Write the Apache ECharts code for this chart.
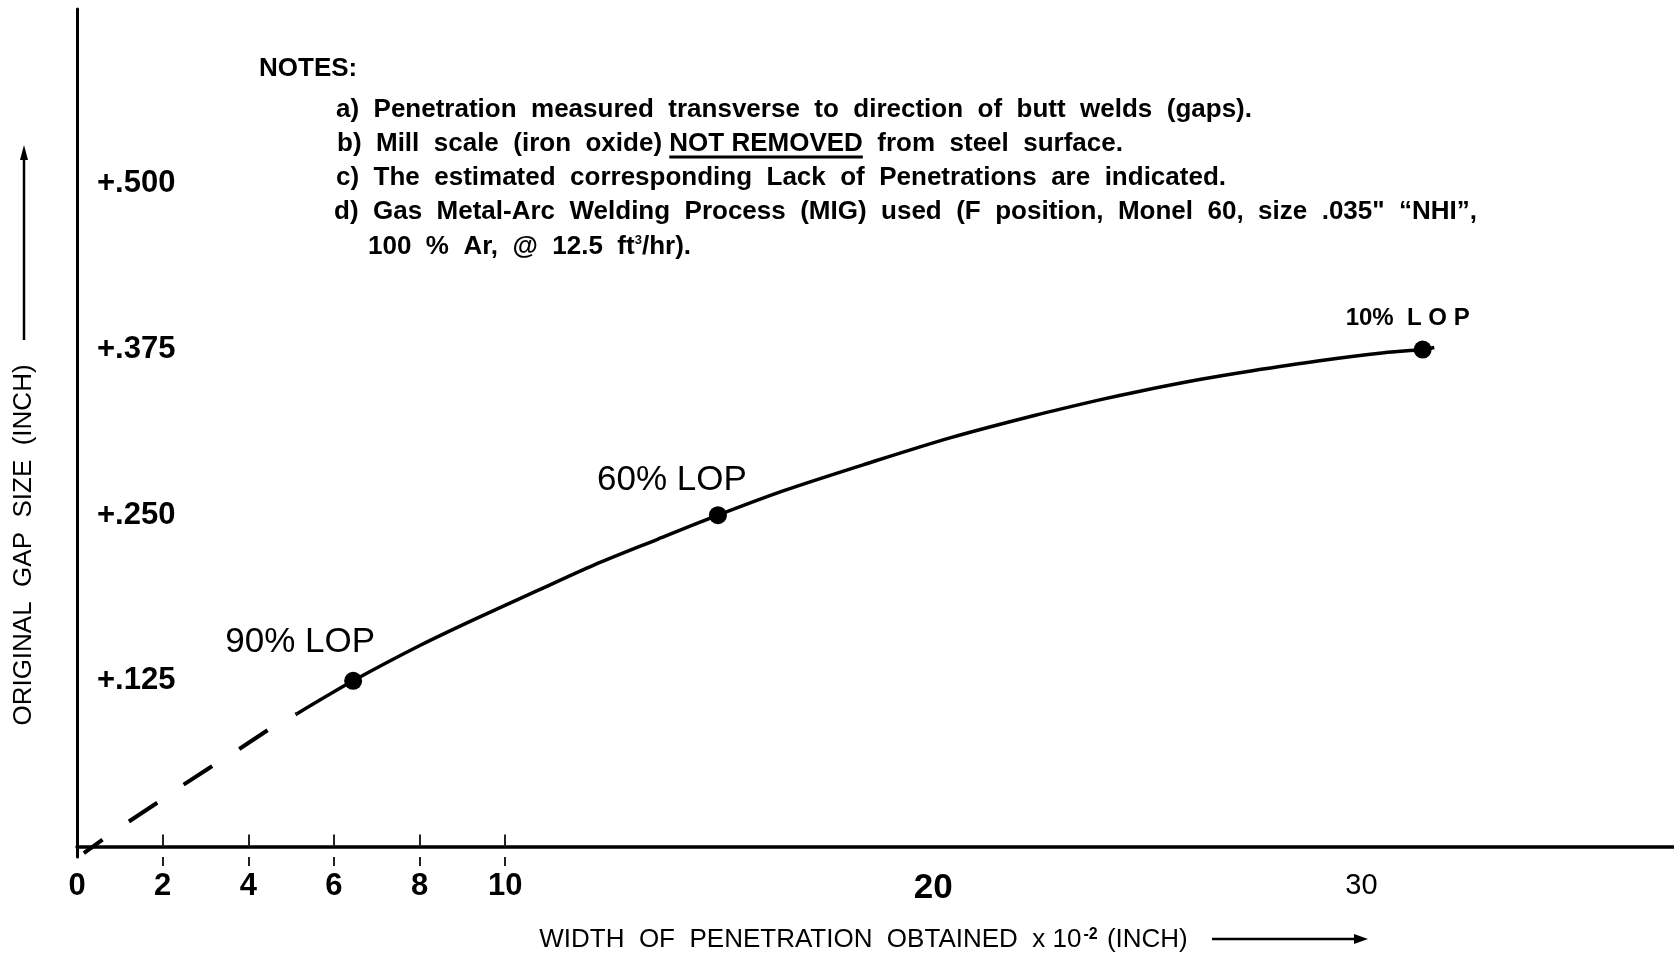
<!DOCTYPE html>
<html><head><meta charset="utf-8">
<script src="https://cdn.jsdelivr.net/npm/echarts@6/dist/echarts.min.js"></script>
<style>html,body{margin:0;padding:0;background:#fff}#c{width:1674px;height:956px}</style>
</head><body><div id="c"></div>
<script>
// ---- data ----
const dashX = [0.16, 0.59, 1.13, 1.83, 2.46, 3.08, 3.86, 4.56, 5.13];
const dashY = [-0.005, 0.005, 0.017, 0.032, 0.046, 0.059, 0.075, 0.090, 0.100];
const curveX = [5.13, 6.45, 8.03, 9.27, 10.75, 12.07, 13.56, 14.97, 16.51, 18.46, 20.41, 22.36, 23.91, 24.77, 26.25, 27.42, 28.98, 30.53, 31.43, 31.70];
const curveY = [0.100, 0.125, 0.152, 0.1712, 0.193, 0.2123, 0.2318, 0.250, 0.2685, 0.289, 0.3085, 0.3252, 0.3372, 0.3432, 0.3525, 0.3588, 0.3663, 0.3725, 0.375, 0.3765];
const lopX = [6.45, 14.97, 31.43];
const lopY = [0.125, 0.25, 0.375];
const lopLabels = ['90% LOP', '60% LOP', '10%  L O P'];
const xLabelValues = [0, 2, 4, 6, 8, 10, 20, 30];
const xTickValues = [2, 4, 6, 8, 10];
const yLabelValues = [0.125, 0.25, 0.375, 0.5];
const yLabelTexts = ['+.125', '+.250', '+.375', '+.500'];
const xTitle = 'WIDTH  OF  PENETRATION  OBTAINED  x 10';
const xTitleSup = '-2';
const xTitleEnd = ' (INCH)';
const yTitle = 'ORIGINAL  GAP  SIZE  (INCH)';
const notesTitle = 'NOTES:';
const noteA = 'a)  Penetration  measured  transverse  to  direction  of  butt  welds  (gaps).';
const noteBpre = 'b)  Mill  scale  (iron  oxide) ';
const noteBul = 'NOT REMOVED';
const noteBpost = '  from  steel  surface.';
const noteC = 'c)  The  estimated  corresponding  Lack  of  Penetrations  are  indicated.';
const noteD = 'd)  Gas  Metal-Arc  Welding  Process  (MIG)  used  (F  position,  Monel  60,  size  .035"  \u201CNHI\u201D,';
const noteE1 = '100  %  Ar,  @  12.5  ft';
const noteEsup = '3';
const noteE2 = '/hr).';

const SANS = "'Liberation Sans',Arial,Helvetica,sans-serif";

const chart = echarts.init(document.getElementById('c'), null, {renderer: 'canvas'});

// measure for underline
const mctx = document.createElement('canvas').getContext('2d');
const noteFont = 'bold 26px ' + SANS;
mctx.font = noteFont;
const bX = 337, bY = 144;
const ulStart = bX + mctx.measureText(noteBpre).width;
const ulEnd = ulStart + mctx.measureText(noteBul).width;

function noteText(x, y, t) {
  return {type: 'text', x: x, y: y, style: {text: t, font: noteFont, fill: '#000', align: 'left', verticalAlign: 'middle'}};
}

const lopLabelStyles = [
  {offset: [-53, -38], fontSize: 35, fontWeight: 'normal', fontFamily: SANS},
  {offset: [-46, -35], fontSize: 35, fontWeight: 'normal', fontFamily: SANS},
  {offset: [-15, -31], fontSize: 24, fontWeight: 'bold', fontFamily: SANS}
];

const option = {
  backgroundColor: '#ffffff',
  animation: false,
  grid: {left: 77, right: 0, top: 9, bottom: 99, containLabel: false, outerBoundsMode: 'none'},
  xAxis: [{
    type: 'value', min: 0, max: 37.3,
    axisLine: {show: true, lineStyle: {color: '#000', width: 3.5}},
    axisTick: {show: true, inside: true, length: 12, customValues: xTickValues, lineStyle: {color: '#222', width: 2}},
    splitLine: {show: false},
    axisLabel: {
      show: true, margin: 14, customValues: xLabelValues,
      formatter: function (v) { return v === 20 ? '{b|20}' : (v === 30 ? '{n|30}' : '{s|' + v + '}'); },
      rich: {
        s: {fontFamily: SANS, fontWeight: 'bold', fontSize: 31, color: '#000'},
        b: {fontFamily: SANS, fontWeight: 'bold', fontSize: 35, color: '#000'},
        n: {fontFamily: SANS, fontWeight: 'normal', fontSize: 29, color: '#000'}
      }
    },
    name: '{t|' + xTitle + '}{sup|' + xTitleSup + '}{t|' + xTitleEnd + '}',
    nameLocation: 'middle', nameGap: 70,
    nameTextStyle: {
      padding: [0, 24, 0, 0],
      rich: {
        t: {fontFamily: SANS, fontSize: 26, color: '#000'},
        sup: {fontFamily: SANS, fontSize: 16, fontWeight: 'bold', color: '#000', verticalAlign: 'top', padding: [0, 2, 10, 2]}
      }
    }
  }, {
    type: 'value', min: 0, max: 37.3, position: 'bottom',
    axisLine: {show: false},
    axisTick: {show: true, inside: false, length: 9, customValues: xTickValues, lineStyle: {color: '#222', width: 2}},
    axisLabel: {show: false}, splitLine: {show: false}
  }],
  yAxis: {
    type: 'value', min: -0.008, max: 0.632,
    axisLine: {show: true, lineStyle: {color: '#000', width: 3}},
    axisTick: {show: false},
    splitLine: {show: false},
    axisLabel: {
      show: true, inside: true, margin: 20, customValues: yLabelValues,
      formatter: function (v) { const i = yLabelValues.indexOf(v); return i >= 0 ? yLabelTexts[i] : ''; },
      fontFamily: SANS, fontWeight: 'bold', fontSize: 31, color: '#000'
    }
  },
  series: [
    {
      type: 'line', name: 'extrapolated', data: dashX.map((x, i) => [x, dashY[i]]),
      showSymbol: false, smooth: false,
      lineStyle: {color: '#000', width: 4, type: [34, 32], dashOffset: 11, cap: 'butt'}
    },
    {
      type: 'line', name: 'measured', data: curveX.map((x, i) => [x, curveY[i]]),
      showSymbol: false, smooth: 0.3,
      lineStyle: {color: '#000', width: 3.5}
    },
    {
      type: 'scatter', name: 'LOP', symbol: 'circle', symbolSize: 18,
      itemStyle: {color: '#000', opacity: 1},
      data: lopX.map((x, i) => ({
        value: [x, lopY[i]],
        label: Object.assign({show: true, position: 'inside', formatter: lopLabels[i], color: '#000', opacity: 1, align: 'center', verticalAlign: 'middle'}, lopLabelStyles[i])
      }))
    }
  ],
  graphic: [
    {type: 'text', x: 24, y: 545, rotation: Math.PI / 2,
     style: {text: yTitle, fontFamily: SANS, fontSize: 26, fill: '#000', align: 'center', verticalAlign: 'middle'}},
    {type: 'line', shape: {x1: 24, y1: 340, x2: 24, y2: 155}, style: {stroke: '#000', lineWidth: 2.5}},
    {type: 'polygon', shape: {points: [[24, 145], [20, 160], [28, 160]]}, style: {fill: '#000'}},
    {type: 'line', shape: {x1: 1212, y1: 939, x2: 1356, y2: 939}, style: {stroke: '#000', lineWidth: 2.5}},
    {type: 'polygon', shape: {points: [[1368, 939], [1354, 934], [1354, 944]]}, style: {fill: '#000'}},
    {type: 'text', x: 259, y: 69, style: {text: notesTitle, font: noteFont, fill: '#000', align: 'left', verticalAlign: 'middle'}},
    noteText(336, 110, noteA),
    noteText(bX, bY, noteBpre + noteBul + noteBpost),
    {type: 'line', shape: {x1: ulStart, y1: bY + 13, x2: ulEnd, y2: bY + 13}, style: {stroke: '#000', lineWidth: 3}},
    noteText(336, 178, noteC),
    noteText(334, 212, noteD),
    {type: 'text', x: 368, y: 247, style: {
      text: '{n|' + noteE1 + '}{s|' + noteEsup + '}{n|' + noteE2 + '}', align: 'left', verticalAlign: 'middle',
      rich: {n: {font: noteFont, fill: '#000'}, s: {fontFamily: SANS, fontWeight: 'bold', fontSize: 13, fill: '#000', verticalAlign: 'top'}}
    }}
  ]
};
chart.setOption(option);
</script>
</body></html>
